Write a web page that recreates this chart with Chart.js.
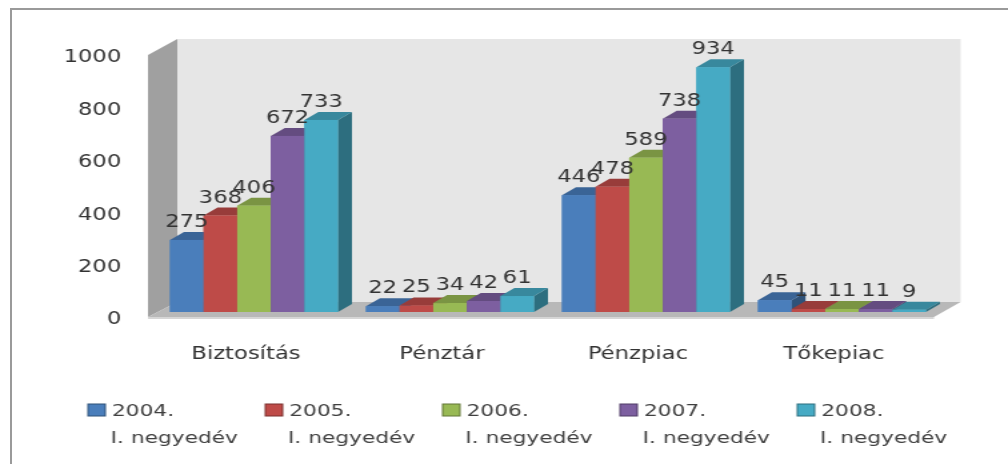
<!DOCTYPE html>
<html>
<head>
<meta charset="utf-8">
<style>
  html, body { margin: 0; padding: 0; background: #fff; overflow: hidden; }
  #wrap { position: relative; width: 1008px; height: 464px; overflow: hidden; }
  #frame { position: absolute; left: 10px; top: 8px; width: 1100px; height: 600px; border: 2px solid #9a9a9a; box-sizing: border-box; }
  /* the reference is a horizontally stretched picture, so the canvas is stretched too */
  canvas { position: absolute; left: 0; top: 0; transform-origin: 0 0; transform: scaleX(1.3333); filter: blur(0.4px); }
</style>
<script src="https://cdn.jsdelivr.net/npm/chart.js@4"></script>
</head>
<body>
<div id="wrap">
  <div id="frame"></div>
  <canvas id="chart" width="756" height="464"></canvas>
</div>
<script>
const categories = ["Biztosítás", "Pénztár", "Pénzpiac", "Tőkepiac"];
const seriesNames = [
  ["2004.", "I. negyedév"],
  ["2005.", "I. negyedév"],
  ["2006.", "I. negyedév"],
  ["2007.", "I. negyedév"],
  ["2008.", "I. negyedév"]
];
const values2004 = [275, 22, 446, 45];
const values2005 = [368, 25, 478, 11];
const values2006 = [406, 34, 589, 11];
const values2007 = [672, 42, 738, 11];
const values2008 = [733, 61, 934, 9];
const yTicks = [0, 200, 400, 600, 800, 1000];

const frontColors = ["#4a7ebb", "#be4b48", "#98b954", "#7d5fa0", "#46aac4"];
const topColors = ["#3a6496", "#983c3a", "#7a9443", "#644c80", "#38889d"];
const sideColors = ["#2f5279", "#7b302e", "#627736", "#503d67", "#2d6e7f"];

const DEPTH_X = 10.5, DEPTH_Y = 8;
const fontName = '"DejaVu Sans", sans-serif';

function poly(ctx, pts, fill) {
  ctx.fillStyle = fill;
  ctx.beginPath();
  pts.forEach((p, i) => i ? ctx.lineTo(p[0], p[1]) : ctx.moveTo(p[0], p[1]));
  ctx.closePath();
  ctx.fill();
}

// back wall, side wall and floor of the fake 3D box
const box3d = {
  id: "box3d",
  beforeDatasetsDraw(chart) {
    const { ctx, chartArea: a } = chart;
    const backL = a.left + 16, backR = a.right + 15.5, frontL = a.left - 6, frontR = a.right - 4.5;
    poly(ctx, [[backL, a.top - 11], [backR, a.top - 11], [backR, a.bottom - 10], [backL, a.bottom - 10]], "#e6e6e6");
    poly(ctx, [[frontL, a.top + 5], [backL, a.top - 11], [backL, a.bottom - 10], [frontL, a.bottom + 5]], "#a0a0a0");
    poly(ctx, [[frontL, a.bottom + 5], [backL, a.bottom - 10], [backR, a.bottom - 10], [frontR, a.bottom + 5]], "#b8b8b8");
    poly(ctx, [[frontL, a.bottom + 5], [frontR, a.bottom + 5], [frontR, a.bottom + 7], [frontL, a.bottom + 7]], "#d6d6d6");
  }
};

// top and side faces of each bar, then the value labels
const bars3d = {
  id: "bars3d",
  afterDatasetsDraw(chart) {
    const { ctx } = chart;
    const count = chart.data.labels.length;
    for (let c = 0; c < count; c++) {
      chart.data.datasets.forEach((ds, d) => {
        const bar = chart.getDatasetMeta(d).data[c];
        const l = bar.x - bar.width / 2, r = bar.x + bar.width / 2;
        const t = bar.y, b = bar.base;
        poly(ctx, [[r, t], [r + DEPTH_X, t - DEPTH_Y], [r + DEPTH_X, b - DEPTH_Y], [r, b]], sideColors[d]);
        poly(ctx, [[l, t], [l + DEPTH_X, t - DEPTH_Y], [r + DEPTH_X, t - DEPTH_Y], [r, t]], topColors[d]);
        ctx.fillStyle = frontColors[d];
        ctx.fillRect(l, t, r - l, b - t);
      });
    }
    ctx.font = "17px " + fontName;
    ctx.fillStyle = "#333";
    ctx.textAlign = "center";
    ctx.textBaseline = "alphabetic";
    chart.data.datasets.forEach((ds, d) => {
      chart.getDatasetMeta(d).data.forEach((bar, c) => {
        ctx.fillText(ds.data[c], bar.x, bar.y - 13);
      });
    });
  }
};

// the built-in legend measures two line labels as one long string, so it is drawn here
const legend2line = {
  id: "legend2line",
  afterDraw(chart) {
    const { ctx } = chart;
    ctx.save();
    ctx.font = "16.3px " + fontName;
    ctx.textAlign = "left";
    ctx.textBaseline = "alphabetic";
    chart.data.datasets.forEach((ds, i) => {
      const x = 66 + i * 133;
      ctx.fillStyle = frontColors[i];
      ctx.strokeStyle = sideColors[i];
      ctx.fillRect(x, 404, 13, 12);
      ctx.strokeRect(x, 404, 13, 12);
      ctx.fillStyle = "#404040";
      ctx.fillText(ds.label[0], x + 18, 416);
      ctx.fillText(ds.label[1], x + 17, 443);
    });
    ctx.restore();
  }
};

new Chart(document.getElementById("chart"), {
  type: "bar",
  data: {
    labels: categories,
    datasets: [values2004, values2005, values2006, values2007, values2008].map((vals, i) => ({
      label: seriesNames[i],
      data: vals,
      backgroundColor: frontColors[i],
      borderWidth: 0
    }))
  },
  options: {
    responsive: false,
    animation: false,
    categoryPercentage: 0.857,
    barPercentage: 1,
    layout: { padding: { left: 49, right: 51, top: 50, bottom: 92 } },
    plugins: {
      tooltip: { enabled: false },
      legend: { display: false }
    },
    scales: {
      x: {
        afterFit(scale) { scale.height = 60; },
        grid: { display: false, drawTicks: false },
        border: { display: false },
        ticks: { font: { family: fontName, size: 17 }, color: "#333", padding: 32, labelOffset: -6, maxRotation: 0 }
      },
      y: {
        min: 0,
        max: 1000,
        afterFit(scale) { scale.width = 68; },
        afterBuildTicks(scale) { scale.ticks = yTicks.map(v => ({ value: v })); },
        grid: { display: false, drawTicks: false },
        border: { display: false },
        ticks: {
          font: { family: fontName, size: 17 },
          color: "#333",
          padding: 26,
          labelOffset: 8,
          callback: v => String(v)
        }
      }
    }
  },
  plugins: [box3d, bars3d, legend2line]
});
</script>
</body>
</html>
